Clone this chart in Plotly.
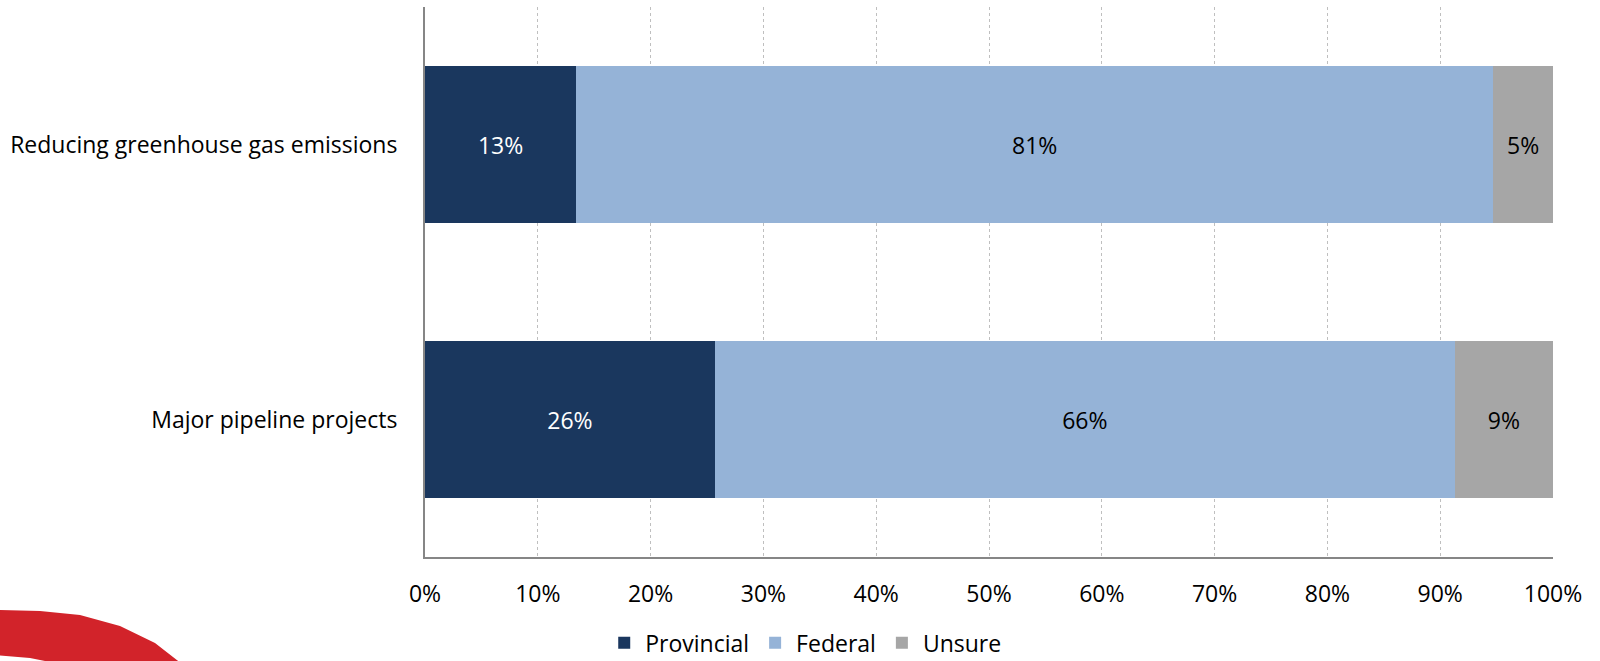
import plotly.graph_objects as go

categories = ["Reducing greenhouse gas emissions", "Major pipeline projects"]
provincial = [13.4, 25.7]
federal = [81.3, 65.6]
unsure = [5.3, 8.7]
tick_vals = [0, 10, 20, 30, 40, 50, 60, 70, 80, 90, 100]
tick_text = [f"{v}%" for v in tick_vals]

FONT = "Open Sans"
FS = 23
W, H = 1600, 661
L, R, T, B = 425, 47, 7, 104

fig = go.Figure()
series = [
    ("Provincial", provincial, "#1A375E", "white"),
    ("Federal", federal, "#95B3D7", "black"),
    ("Unsure", unsure, "#A6A6A6", "black"),
]
for name, vals, color, tcol in series:
    fig.add_trace(go.Bar(
        y=categories, x=vals, name=name, orientation="h",
        marker=dict(color=color, line=dict(width=0)),
        texttemplate="%{x:.0f}%", textposition="inside", insidetextanchor="middle",
        textfont=dict(color=tcol, size=FS, family=FONT),
        constraintext="none",
    ))

# decorative red swoosh (bottom-left), built in pixel space then mapped to paper
pw, ph = W - L - R, H - T - B
def px(x, y):
    return ((x - L) / pw, (H - B - y) / ph)

outer = [(-5, 610), (40, 611), (80, 615), (120, 626), (155, 643), (182, 664)]
inner = [(60, 664), (30, 658), (-5, 655)]
pts = outer + inner
path = "M " + " L ".join(f"{px(x, y)[0]:.5f},{px(x, y)[1]:.5f}" for x, y in pts) + " Z"
fig.add_shape(type="path", path=path, xref="paper", yref="paper",
              fillcolor="#D2232A", line=dict(width=0), layer="above")

fig.update_layout(
    barmode="stack",
    bargap=0.43,
    width=W, height=H,
    margin=dict(l=L, r=R, t=T, b=B, autoexpand=False),
    paper_bgcolor="white", plot_bgcolor="white",
    font=dict(family=FONT, size=FS, color="black"),
    showlegend=True,
    legend=dict(orientation="h", x=0.158, y=-0.156, xanchor="left", yanchor="middle",
                font=dict(size=FS, family=FONT), traceorder="normal",
                itemwidth=32, tracegroupgap=0),
    xaxis=dict(range=[0, 100], tickvals=tick_vals, ticktext=tick_text,
               showgrid=True, gridcolor="#BFBFBF", griddash="dot", gridwidth=1,
               showline=True, linecolor="#868686", linewidth=2,
               zeroline=False, ticks="", ticklabelstandoff=15,
               tickfont=dict(size=FS, family=FONT)),
    yaxis=dict(autorange="reversed", showline=True, linecolor="#868686", linewidth=2,
               showgrid=False, ticks="", ticklabelstandoff=21,
               tickfont=dict(size=FS, family=FONT)),
)

fig.write_html("out.html", config={"displayModeBar": False},
               post_script="document.body.style.margin='0';")
